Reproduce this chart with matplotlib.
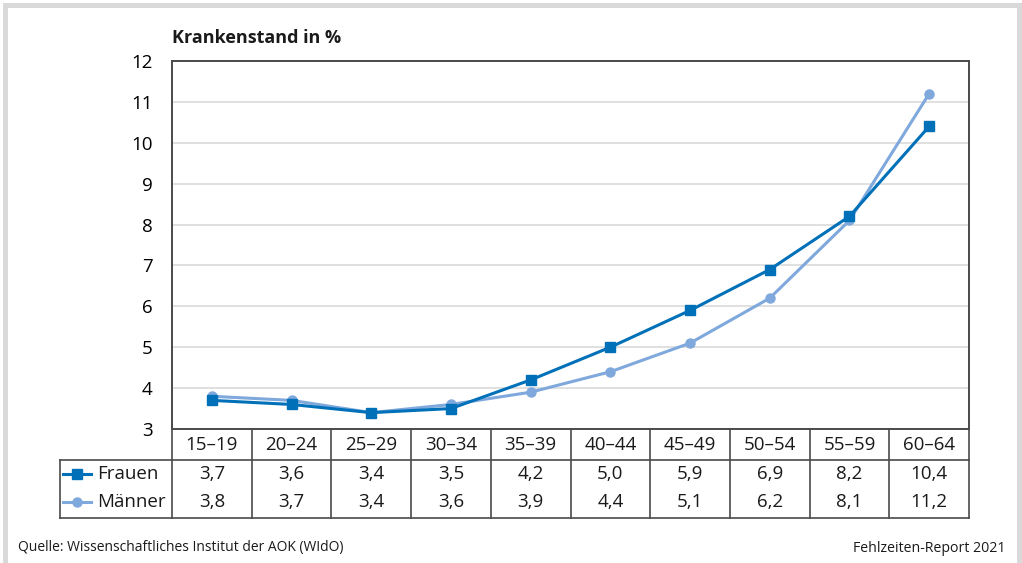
import matplotlib
matplotlib.use("Agg")
import matplotlib.pyplot as plt
from matplotlib.patches import Rectangle
from matplotlib.lines import Line2D
import matplotlib.transforms as mtransforms

plt.rcParams['font.family'] = ['Open Sans', 'DejaVu Sans']

# Daten
altersgruppen = ["15–19", "20–24", "25–29", "30–34", "35–39",
                 "40–44", "45–49", "50–54", "55–59", "60–64"]
frauen = [3.7, 3.6, 3.4, 3.5, 4.2, 5.0, 5.9, 6.9, 8.2, 10.4]
maenner = [3.8, 3.7, 3.4, 3.6, 3.9, 4.4, 5.1, 6.2, 8.1, 11.2]
y_ticks = [3, 4, 5, 6, 7, 8, 9, 10, 11, 12]

W, H = 1022, 563
c_frauen = "#0071B9"
c_maenner = "#7FA8DC"
c_frame = "#4A4A4A"
c_grid = "#DADADA"


def fx(px):
    return px / W


def fy(py):
    return 1 - py / H


fig = plt.figure(figsize=(W / 100, H / 100), dpi=100)

# grauer Rahmen
for x0, y0, w, h in [(3, 3, 1019, 5), (3, 3, 5, 560), (1017, 3, 5, 560)]:
    fig.patches.append(Rectangle((fx(x0), fy(y0 + h)), w / W, h / H,
                                 transform=fig.transFigure, color="#D9D9D9", lw=0))

left, right, top, bottom = 172, 969, 61, 429
ax = fig.add_axes([fx(left), fy(bottom), (right - left) / W, (bottom - top) / H])

x = list(range(len(altersgruppen)))
ax.plot(x, maenner, color=c_maenner, lw=2.2, marker="o", ms=6.5, zorder=3)
ax.plot(x, frauen, color=c_frauen, lw=2.2, marker="s", ms=7.2, zorder=4)

ax.set_xlim(-0.5, len(altersgruppen) - 0.5)
ax.set_ylim(3, 12)
ax.set_yticks(y_ticks)
ax.set_yticklabels([str(v) for v in y_ticks])
ax.set_xticks([])
ax.tick_params(axis="y", length=0, pad=14, labelsize=13.5)
for t in ax.get_yticklabels():
    t.set_horizontalalignment("right")
ax.grid(axis="y", color=c_grid, lw=1.2)
ax.set_axisbelow(True)
for s in ax.spines.values():
    s.set_color(c_frame)
    s.set_linewidth(1.4)

fig.text(fx(left), fy(38), "Krankenstand in %", fontsize=13, fontweight="bold",
         ha="left", va="center", color="#1A1A1A")

# Tabelle unter dem Diagramm
tr = mtransforms.blended_transform_factory(ax.transData, fig.transFigure)
y_line, y_end = 460, 518
lc = dict(color=c_frame, lw=1.2, clip_on=False)

for i, lab in enumerate(altersgruppen):
    ax.text(i, fy(445), lab, transform=tr, ha="center", va="center",
            fontsize=13.5, color="#1A1A1A")
    ax.text(i, fy(474), f"{frauen[i]:.1f}".replace(".", ","), transform=tr,
            ha="center", va="center", fontsize=13.5, color="#1A1A1A")
    ax.text(i, fy(502), f"{maenner[i]:.1f}".replace(".", ","), transform=tr,
            ha="center", va="center", fontsize=13.5, color="#1A1A1A")

for k in range(len(altersgruppen) + 1):
    xb = k - 0.5
    fig.add_artist(Line2D([xb, xb], [fy(bottom), fy(y_end)], transform=tr, **lc))

fig.add_artist(Line2D([fx(60), fx(right)], [fy(y_line), fy(y_line)],
                      transform=fig.transFigure, **lc))
fig.add_artist(Line2D([fx(60), fx(right)], [fy(y_end), fy(y_end)],
                      transform=fig.transFigure, **lc))
fig.add_artist(Line2D([fx(60), fx(60)], [fy(y_line), fy(y_end)],
                      transform=fig.transFigure, **lc))

# Legende in der Tabelle
for yy, col, mk, ms, name in [(474, c_frauen, "s", 7, "Frauen"),
                              (502, c_maenner, "o", 6.5, "Männer")]:
    fig.add_artist(Line2D([fx(63), fx(91)], [fy(yy), fy(yy)], color=col, lw=2.2,
                          transform=fig.transFigure))
    fig.add_artist(Line2D([fx(77)], [fy(yy)], color=col, marker=mk, ms=ms,
                          transform=fig.transFigure))
    fig.text(fx(97), fy(yy), name, fontsize=13.5, ha="left", va="center",
             color="#1A1A1A")

fig.text(fx(18), fy(548), "Quelle: Wissenschaftliches Institut der AOK (WIdO)",
         fontsize=10, ha="left", va="center", color="#1A1A1A")
fig.text(fx(1005), fy(548), "Fehlzeiten-Report 2021", fontsize=10.2,
         ha="right", va="center", color="#1A1A1A")

fig.savefig("out.png", dpi=100)
